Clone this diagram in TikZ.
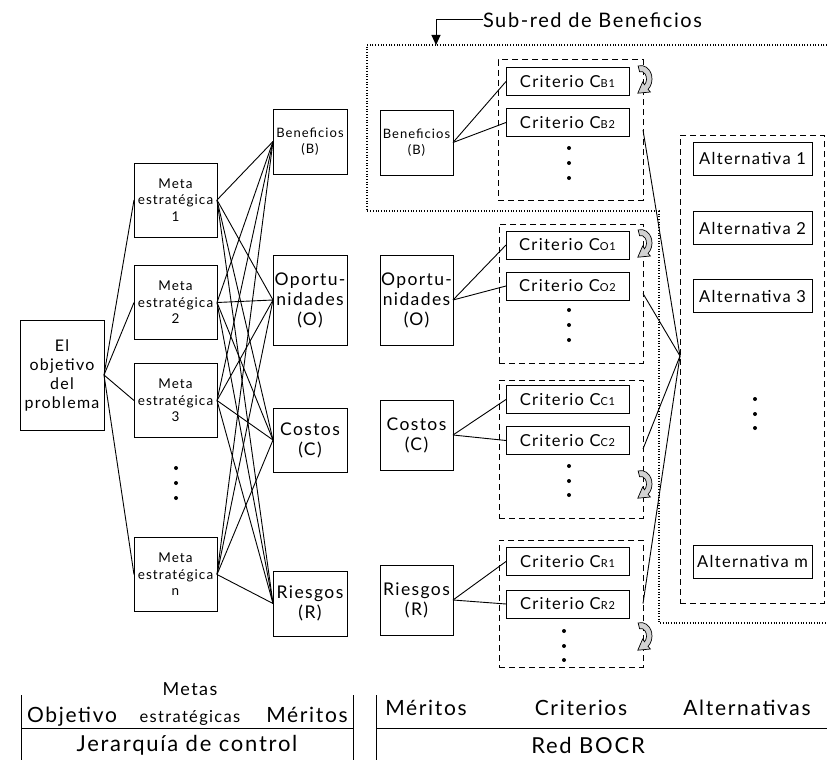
\documentclass[tikz,border=0pt]{standalone}
\usepackage{fontspec}
\setmainfont{Lato}[LetterSpace=8]
\usetikzlibrary{arrows.meta}

\tikzset{
  loopsym/.pic={
    \path[draw, fill=gray!35, line width=0.7pt]
      (-105:11 and 13.5) arc[start angle=-105, end angle=50, x radius=11, y radius=13.5]
      -- (50:14.5 and 17) -- (-3.2,14.2) -- (50:2.5 and 4)
      -- (50:5.5 and 7.5) arc[start angle=50, end angle=-105, x radius=5.5, y radius=7.5]
      -- cycle;
  }
}

\begin{document}
\begin{tikzpicture}[x=1pt, y=-1pt,
  every node/.style={inner sep=0pt, outer sep=0pt},
  box/.style={draw, line width=1pt, align=center},
  lnk/.style={line width=0.9pt},
  dbox/.style={draw, line width=1pt, dash pattern=on 6pt off 4pt},
  dotline/.style={line width=1.3pt, dash pattern=on 1pt off 1.7pt},
  fsmall/.style={font=\fontsize{13}{16.5}\selectfont},
  fmid/.style={font=\fontsize{17.5}{20}\selectfont},
  fobj/.style={font=\fontsize{16}{19}\selectfont},
  fcrit/.style={font=\fontsize{16.5}{19}\selectfont},
  flab/.style={font=\fontsize{20}{23}\selectfont},
  fleg/.style={font=\fontsize{21}{24}\selectfont},
  fbig/.style={font=\fontsize{22}{25}\selectfont},
  crit/.style={box, fcrit, minimum width=123, minimum height=28},
  alt/.style={box, fcrit, minimum width=119, minimum height=33},
  meta/.style={box, font=\fontsize{13.5}{16.5}\selectfont, minimum width=83, minimum height=74},
  dot/.style={fill=black}
]
\useasboundingbox (0,0) rectangle (827,760);
\newcommand{\sub}[1]{{\fontsize{11}{11}\selectfont #1}}

% ---------- control hierarchy ----------
\node[box, fobj, minimum width=84, minimum height=110] (obj) at (62,375) {El\\objetivo\\del\\problema};

\node[meta] (m1) at (175.5,200) {Meta\\estratégica\\1};
\node[meta] (m2) at (175.5,302.5) {Meta\\estratégica\\2};
\node[meta] (m3) at (175.5,400.5) {Meta\\estratégica\\3};
\node[meta] (mn) at (175.5,574.5) {Meta\\estratégica\\n};
\foreach \yy in {468,483,498} \fill[dot] (176,\yy) circle (2);

\node[box, fsmall, minimum width=74, minimum height=65] (b1) at (310,141.5) {Beneficios\\(B)};
\node[box, fmid, minimum width=74, minimum height=90] (o1) at (310,300) {Oportu-\\nidades\\(O)};
\node[box, fmid, minimum width=74, minimum height=64] (c1) at (310,440) {Costos\\(C)};
\node[box, fmid, minimum width=74, minimum height=65] (r1) at (310,603.5) {Riesgos\\(R)};

\foreach \m in {m1,m2,m3,mn} {
  \draw[lnk] (obj.east) -- (\m.west);
  \foreach \k in {b1,o1,c1,r1} \draw[lnk] (\m.east) -- (\k.west);
}

% ---------- BOCR network ----------
\node[box, fsmall, minimum width=73, minimum height=65] (b2) at (416.5,142.5) {Beneficios\\(B)};
\node[box, fmid, minimum width=73, minimum height=90] (o2) at (416.5,300) {Oportu-\\nidades\\(O)};
\node[box, fmid, minimum width=73, minimum height=70] (c2) at (416.5,435) {Costos\\(C)};
\node[box, fmid, minimum width=73, minimum height=70] (r2) at (416.5,600) {Riesgos\\(R)};

% criteria clusters
\node[dbox, minimum width=145, minimum height=140] (gb) at (570.5,130) {};
\node[dbox, minimum width=144, minimum height=139] (go) at (571,293.5) {};
\node[dbox, minimum width=144, minimum height=138] (gc) at (571,449) {};
\node[dbox, minimum width=144, minimum height=127] (gr) at (571,603.5) {};

\node[crit] (cb1) at (567.5,81.5) {Criterio C\sub{B1}};
\node[crit] (cb2) at (567.5,122.5) {Criterio C\sub{B2}};
\node[crit] (co1) at (567.5,245) {Criterio C\sub{O1}};
\node[crit] (co2) at (567.5,286) {Criterio C\sub{O2}};
\node[crit] (cc1) at (567.5,399.5) {Criterio C\sub{C1}};
\node[crit] (cc2) at (567.5,440.5) {Criterio C\sub{C2}};
\node[crit] (cr1) at (567.5,561.5) {Criterio C\sub{R1}};
\node[crit] (cr2) at (567.5,604) {Criterio C\sub{R2}};

\foreach \yy in {148,163,178,310,325,340,466,481,495} \fill[dot] (569,\yy) circle (2);
\foreach \yy in {631,646,660} \fill[dot] (564,\yy) circle (2);

\draw[lnk] (b2.east) -- (cb1.west);
\draw[lnk] (b2.east) -- (cb2.west);
\draw[lnk] (o2.east) -- (co1.west);
\draw[lnk] (o2.east) -- (co2.west);
\draw[lnk] (c2.east) -- (cc1.west);
\draw[lnk] (c2.east) -- (cc2.west);
\draw[lnk] (r2.east) -- (cr1.west);
\draw[lnk] (r2.east) -- (cr2.west);

% alternatives
\node[dbox, minimum width=144, minimum height=468] (ga) at (752,369) {};
\node[alt] (a1) at (752.5,158.5) {Alternativa 1};
\node[alt] (a2) at (752.5,228) {Alternativa 2};
\node[alt] (a3) at (752.5,296) {Alternativa 3};
\node[alt] (am) at (752.5,561.5) {Alternativa m};
\foreach \yy in {399,414,428} \fill[dot] (755,\yy) circle (2);

\coordinate (conv) at (680,356);
\foreach \g in {gb,go,gc,gr} \draw[lnk] (\g.east) -- (conv);

% feedback loops on the clusters
\pic at (641,79) {loopsym};
\pic at (641,243) {loopsym};
\pic at (641,484) {loopsym};
\pic at (641,636) {loopsym};

% benefits sub-network outline
\draw[dotline] (827,45) -- (367,45) -- (367,211) -- (659,211) -- (659,623) -- (827,623);

\node[flab, anchor=west] (sublab) at (483,20) {Sub-red de Beneficios};
\coordinate (subtip) at (436,45);
\draw[line width=1pt, -{Triangle[length=10pt,width=9pt]}] (sublab.west) -| (subtip);

% ---------- legend ----------
\draw[line width=1pt] (21,695) -- (21,760);
\draw[line width=1pt] (353,695) -- (353,760);
\draw[line width=1pt] (21,728) -- (353,728);
\draw[line width=1pt] (376,695) -- (376,760);
\draw[line width=1pt] (376,728) -- (827,728);

\node[fleg, anchor=base] (lobj) at (72,722) {Objetivo};
\node[font=\fontsize{18}{21}\selectfont, anchor=base] (lmet) at (190,695) {Metas};
\node[font=\fontsize{16.5}{19}\selectfont, anchor=base] (lest) at (190,722) {estratégicas};
\node[fleg, anchor=base] (lmer) at (307,722) {Méritos};
\node[fbig, anchor=base] (ljer) at (187,751) {Jerarquía de control};

\node[fleg, anchor=base] (rmer) at (426,715) {Méritos};
\node[fleg, anchor=base] (rcri) at (581,715) {Criterios};
\node[fleg, anchor=base] (ralt) at (747,715) {Alternativas};
\node[fbig, anchor=base] (rbocr) at (588,753) {Red BOCR};
\end{tikzpicture}
\end{document}
